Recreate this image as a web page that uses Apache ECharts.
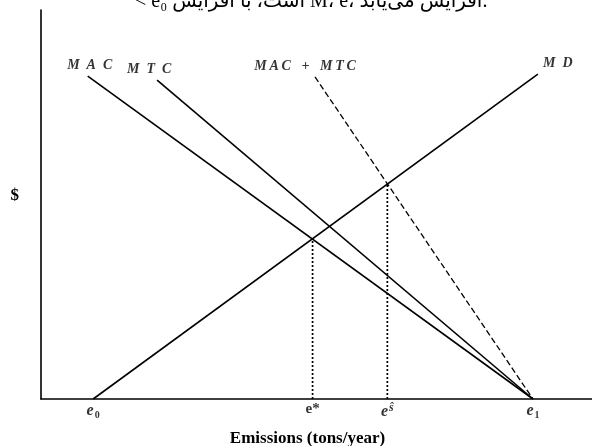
<!DOCTYPE html>
<html>
<head>
<meta charset="utf-8">
<script src="https://cdn.jsdelivr.net/npm/echarts@6/dist/echarts.min.js"></script>
<style>html,body{margin:0;padding:0;background:#fff}#c{width:592px;height:446px}</style>
</head>
<body>
<div id="c"></div>
<script>
// ---- data (emissions units on x, $ units on y) ----
const macLine = [[9.5, 83], [100, 0]];
const mtcLine = [[23.6, 82], [100, 0]];
const sumLine = [[55.7, 82.8], [100, 0]];
const mdLine  = [[10.6, 0], [101, 83.5]];
const eStarLine = [[55.2, 0], [55.2, 41.2]];
const eHatLine  = [[70.4, 0], [70.4, 55.3]];
const curveLabels = ['M\u2002A\u2002C', 'M\u2002T\u2002C', 'M\u2009A\u2009C\u2002 +\u2002 M\u2009T\u2009C', 'M\u2002D'];
const curveLabelAt = [[9.5, 83], [23.6, 82], [55.7, 82.8], [101, 83.5]];
const tickValues = [10.6, 55.2, 70.4, 100];
const tickLabels = ['{i|e}{sub|0}', '{b|e*}', '{i|e}{sup|ŝ}', '{i|e}{sub|1}'];
const xName = 'Emissions (tons/year)';
const yName = '$';
const topText = '< e\u2080 است، با افزایش M، e، افزایش می\u200cیابد.';

const serif = 'Liberation Serif, Times New Roman, serif';
const chart = echarts.init(document.getElementById('c'), null, {renderer: 'canvas'});
const solid = {color: '#000', width: 1.6};
const richTick = {
  i: {fontFamily: serif, fontStyle: 'italic', fontWeight: 'bold', fontSize: 16, color: '#000'},
  b: {fontFamily: serif, fontWeight: 'bold', fontSize: 15, color: '#000'},
  sub: {fontFamily: serif, fontWeight: 'bold', fontSize: 10, color: '#000', verticalAlign: 'bottom', padding: [8, 0, 0, 1]},
  sup: {fontFamily: serif, fontStyle: 'italic', fontWeight: 'bold', fontSize: 12, color: '#000', verticalAlign: 'top', padding: [0, 0, 8, 1]}
};
const labelOffsets = [[2, 0], [-8, 0], [-10, 0], [20, 0]];
function lineSeries(data, style) {
  return {type: 'line', data: data, symbol: 'none', silent: true, animation: false, lineStyle: style, z: 3};
}
chart.setOption({
  animation: false,
  backgroundColor: '#fff',
  grid: {left: 41, right: 0, top: 10, bottom: 47, containLabel: false, outerBoundsMode: 'none'},
  xAxis: {
    type: 'value', min: 0, max: 112,
    axisLine: {show: true, onZero: false, lineStyle: {color: '#000', width: 1.6}},
    axisTick: {show: false}, axisLabel: {show: false}, splitLine: {show: false},
    name: xName, nameLocation: 'middle', nameGap: 31,
    nameTextStyle: {fontFamily: serif, fontWeight: 'bold', fontSize: 17, color: '#000', padding: [0, 18, 0, 0]}
  },
  yAxis: {
    type: 'value', min: 0, max: 100,
    axisLine: {show: true, lineStyle: {color: '#000', width: 1.6}},
    axisTick: {show: false}, axisLabel: {show: false}, splitLine: {show: false},
    name: yName, nameLocation: 'middle', nameGap: 22, nameRotate: 0,
    nameTextStyle: {fontFamily: serif, fontWeight: 'bold', fontSize: 17, color: '#000', verticalAlign: 'bottom'}
  },
  graphic: [{
    type: 'text', left: 135, top: -8, silent: true,
    style: {text: topText, fontFamily: 'Liberation Serif, DejaVu Sans, serif', fontSize: 20, fill: '#000'}
  }],
  series: [
    lineSeries(macLine, solid),
    lineSeries(mtcLine, solid),
    lineSeries(sumLine, {color: '#000', width: 1.3, type: [6, 3]}),
    lineSeries(mdLine, solid),
    lineSeries(eStarLine, {color: '#000', width: 1.7, type: [2, 2]}),
    lineSeries(eHatLine, {color: '#000', width: 1.7, type: [2, 2]}),
    {
      type: 'scatter', symbolSize: 0, silent: true, z: 5,
      data: curveLabelAt.map((p, i) => ({value: p, name: curveLabels[i], label: {offset: labelOffsets[i]}})),
      label: {show: true, position: 'top', distance: 4, formatter: p => p.name,
        fontFamily: serif, fontStyle: 'italic', fontWeight: 'bold', fontSize: 14, color: '#000'}
    },
    {
      type: 'scatter', symbolSize: 0, silent: true, z: 5,
      data: tickValues.map((v, i) => ({value: [v, 0], name: tickLabels[i]})),
      label: {show: true, position: 'bottom', distance: 3, formatter: p => p.name, rich: richTick}
    }
  ]
});
</script>
</body>
</html>
